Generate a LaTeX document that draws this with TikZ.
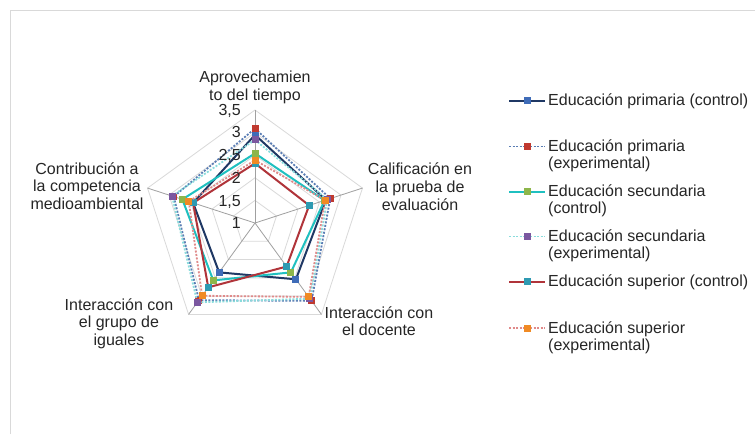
\documentclass[tikz,border=0pt]{standalone}
\usepackage{fontspec}
\setmainfont{Liberation Sans}
\definecolor{txt}{HTML}{262626}
\definecolor{ringc}{HTML}{D9D9D9}
\definecolor{spokec}{HTML}{A0A0A0}
\definecolor{framec}{HTML}{D9D9D9}
\definecolor{navy}{HTML}{1F3864}
\definecolor{mblue}{HTML}{3F6CB8}
\definecolor{bluegray}{HTML}{5A7DB4}
\definecolor{mred}{HTML}{C0392F}
\definecolor{turq}{HTML}{1FC0C0}
\definecolor{mgreen}{HTML}{8DB64A}
\definecolor{lcyan}{HTML}{8ADCDC}
\definecolor{mpurple}{HTML}{7B58A0}
\definecolor{dred}{HTML}{B0343A}
\definecolor{mteal}{HTML}{2E9AB2}
\definecolor{lred}{HTML}{E08A8A}
\definecolor{morange}{HTML}{F08A24}
\newcommand\plotser[7]{%
  \draw[#1] (-90:{(#3-1)*45.2}) -- (-18:{(#4-1)*45.2}) -- (54:{(#5-1)*45.2}) -- (126:{(#6-1)*45.2}) -- (198:{(#7-1)*45.2}) -- cycle;
  \foreach \a/\v in {-90/#3,-18/#4,54/#5,126/#6,198/#7}
    \fill[#2] (\a:{(\v-1)*45.2}) ++(-3.5,-3.5) rectangle ++(7,7);
}
\newcommand\legentry[3]{% style, marker colour, y
  \draw[#1] (509,#3) -- (545,#3);
  \fill[#2] (527,#3) ++(-3.5,-3.5) rectangle ++(7,7);
}
\begin{document}
\begin{tikzpicture}[x=1pt,y=-1pt,
  lbl/.style={font=\fontsize{16}{17.5}\selectfont, text=txt, inner sep=0pt},
  ring/.style={draw=ringc, line width=0.8pt},
  spoke/.style={draw=spokec, line width=0.8pt},
  sA/.style={draw=navy, line width=2pt, line join=round},
  sB/.style={draw=bluegray, line width=1.8pt, dash pattern=on 2pt off 1.5pt, line join=round},
  sC/.style={draw=turq, line width=2pt, line join=round},
  sD/.style={draw=lcyan, line width=1.8pt, dash pattern=on 2pt off 1.5pt, line join=round},
  sE/.style={draw=dred, line width=2pt, line join=round},
  sF/.style={draw=lred, line width=1.8pt, dash pattern=on 2pt off 1.5pt, line join=round}]
\useasboundingbox (0,0) rectangle (755,434);
\fill[white] (0,0) rectangle (755,434);
\draw[framec, line width=1pt] (10,434) -- (10,10) -- (755,10);

\begin{scope}[shift={(255,223)}]
  \foreach \v in {1.5,2,2.5,3,3.5}
    \draw[ring] (-90:{(\v-1)*45.2}) -- (-18:{(\v-1)*45.2}) -- (54:{(\v-1)*45.2}) -- (126:{(\v-1)*45.2}) -- (198:{(\v-1)*45.2}) -- cycle;
  \foreach \a in {-90,-18,54,126,198}
    \draw[spoke] (0,0) -- (\a:113);
  \plotser{sA}{mblue}{2.95}{2.65}{2.54}{2.35}{2.44}
  \plotser{sB}{mred}{3.09}{2.75}{3.13}{3.11}{2.89}
  \plotser{sC}{mgreen}{2.54}{2.62}{2.35}{2.57}{2.69}
  \plotser{sD}{mpurple}{2.84}{2.68}{3.07}{3.17}{2.93}
  \plotser{sE}{mteal}{2.32}{2.26}{2.19}{2.76}{2.44}
  \plotser{sF}{morange}{2.39}{2.63}{3.02}{2.99}{2.54}
\end{scope}

% scale labels
\node[lbl, anchor=base east] (t35) at (241,115) {3,5};
\node[lbl, anchor=base east] (t30) at (241,137.5) {3};
\node[lbl, anchor=base east] (t25) at (241,160) {2,5};
\node[lbl, anchor=base east] (t20) at (241,183) {2};
\node[lbl, anchor=base east] (t15) at (241,206) {1,5};
\node[lbl, anchor=base east] (t10) at (241,228.5) {1};

% axis labels
\node[lbl, anchor=base] (ax1a) at (255,82.5) {Aprovechamien};
\node[lbl, anchor=base] (ax1b) at (255,100) {to del tiempo};
\node[lbl, anchor=base] (ax2a) at (420,174) {Calificación en};
\node[lbl, anchor=base] (ax2b) at (420,192) {la prueba de};
\node[lbl, anchor=base] (ax2c) at (420,210) {evaluación};
\node[lbl, anchor=base] (ax3a) at (379,318) {Interacción con};
\node[lbl, anchor=base] (ax3b) at (379,335.5) {el docente};
\node[lbl, anchor=base] (ax4a) at (119,310) {Interacción con};
\node[lbl, anchor=base] (ax4b) at (119,327.5) {el grupo de};
\node[lbl, anchor=base] (ax4c) at (119,345) {iguales};
\node[lbl, anchor=base] (ax5a) at (87,174) {Contribución a};
\node[lbl, anchor=base] (ax5b) at (87,191.5) {la competencia};
\node[lbl, anchor=base] (ax5c) at (87,209) {medioambiental};

% legend
\legentry{sA}{mblue}{100.5}
\legentry{sB}{mred}{146.5}
\legentry{sC}{mgreen}{191.5}
\legentry{sD}{mpurple}{236.5}
\legentry{sE}{mteal}{281.5}
\legentry{sF}{morange}{328}
\node[lbl, anchor=base west] (lg1a) at (548,105.5) {Educación primaria (control)};
\node[lbl, anchor=base west] (lg2a) at (548,151.5) {Educación primaria};
\node[lbl, anchor=base west] (lg2b) at (548,168.5) {(experimental)};
\node[lbl, anchor=base west] (lg3a) at (548,196.5) {Educación secundaria};
\node[lbl, anchor=base west] (lg3b) at (548,213.5) {(control)};
\node[lbl, anchor=base west] (lg4a) at (548,241.5) {Educación secundaria};
\node[lbl, anchor=base west] (lg4b) at (548,258.5) {(experimental)};
\node[lbl, anchor=base west] (lg5a) at (548,286.5) {Educación superior (control)};
\node[lbl, anchor=base west] (lg6a) at (548,333) {Educación superior};
\node[lbl, anchor=base west] (lg6b) at (548,350) {(experimental)};
\end{tikzpicture}
\end{document}
